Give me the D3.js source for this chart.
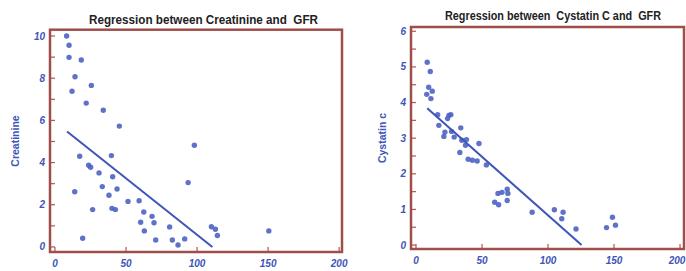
<!DOCTYPE html>
<html><head><meta charset="utf-8">
<script src="https://cdn.jsdelivr.net/npm/d3@7"></script>
<style>
html,body{margin:0;padding:0;background:#fff;}
svg{display:block;}
text{white-space:pre;}
</style></head>
<body>
<svg id="c" width="686" height="271"></svg>
<script>
// ---- Data ----
const crGFR   = [8.2,9.9,9.9,18.5,14.1,25.6,12,22,34,45.3,17.4,39.7,23.7,25.1,31,40.6,13.9,33.3,43.7,38,51.4,59.2,26.5,40.1,42.5,62.5,68.3,69.7,60.3,62.9,80.7,19.5,70.9,82.6,86.6,91.3,93.7,98.1,110.1,112.9,114.3,150.5];
const crValue = [10.0,9.56,8.99,8.86,8.07,7.66,7.38,6.82,6.48,5.73,4.30,4.33,3.87,3.78,3.51,3.33,2.62,2.86,2.75,2.45,2.16,2.19,1.77,1.83,1.77,1.66,1.45,1.15,1.17,0.76,0.95,0.41,0.33,0.33,0.09,0.38,3.05,4.82,0.96,0.84,0.54,0.76];
const crLineX = [8.5, 110.8];
const crLineY = [5.47, 0.0];

const cyGFR   = [8.5,10.8,9.6,12.3,8.1,11.3,16.4,24.9,26.4,23.9,17.3,21.9,21.1,26.9,28.9,33.9,34.7,38.2,47.7,37.5,33.2,39.5,42.7,46.3,53.3,62.1,65.1,69.1,69.6,59.6,62.6,69.1,88,104.8,111.4,110.4,121.2,148.8,144.3,151.1];
const cyValue = [5.13,4.87,4.43,4.32,4.23,4.11,3.66,3.64,3.66,3.55,3.36,3.17,3.05,3.19,3.03,3.29,2.94,2.96,2.85,2.80,2.60,2.41,2.38,2.36,2.25,1.45,1.48,1.57,1.45,1.20,1.13,1.25,0.92,0.99,0.92,0.74,0.45,0.78,0.49,0.56];
const cyLineX = [8.5, 125.4];
const cyLineY = [3.84, 0.0];

const xTicks = [0, 50, 100, 150, 200];
const crYTicks = [0, 2, 4, 6, 8, 10];
const crYMinor = [1, 3, 5, 7, 9];
const cyYTicks = [0, 1, 2, 3, 4, 5, 6];
const cyYMinor = [0.5, 1.5, 2.5, 3.5, 4.5, 5.5];

const charts = [
  {title:"Regression between Creatinine and  GFR", ylabel:"Creatinine",
   gx:crGFR, gy:crValue, lx:crLineX, ly:crLineY, yt:crYTicks, ym:crYMinor,
   xd:[-3.5,202], xr:[50,342], yd:[-0.24,10.3], yr:[252,29.7],
   titleX:89, titleW:229, titleY:24, ylabX:19, ylabY:141, ylabW:58, xLabY:267},
  {title:"Regression between  Cystatin C and  GFR", ylabel:"Cystatin c",
   gx:cyGFR, gy:cyValue, lx:cyLineX, ly:cyLineY, yt:cyYTicks, ym:cyYMinor,
   xd:[-3.8,203], xr:[411,684], yd:[-0.11,6.12], yr:[249,27],
   titleX:445, titleW:216, titleY:20, ylabX:386, ylabY:138, ylabW:58, xLabY:264}
];

const svg = d3.select("#c");
const blue = "#3d55b8";
const frameCol = "#9e4f4a";

charts.forEach(c => {
  const x = d3.scaleLinear().domain(c.xd).range(c.xr);
  const y = d3.scaleLinear().domain(c.yd).range(c.yr);
  const g = svg.append("g");

  // title
  g.append("text").attr("x", c.titleX).attr("y", c.titleY)
    .attr("font-family","Liberation Sans, Arial, sans-serif")
    .attr("font-weight","bold").attr("font-size", 12).attr("fill","#222")
    .attr("textLength", c.titleW).attr("lengthAdjust","spacingAndGlyphs")
    .text(c.title);

  // y label
  g.append("text")
    .attr("transform", `translate(${c.ylabX},${c.ylabY}) rotate(-90)`)
    .attr("text-anchor","middle")
    .attr("font-family","Liberation Sans, Arial, sans-serif")
    .attr("font-weight","bold").attr("font-size", 10.5).attr("fill", blue)
    .text(c.ylabel);

  // minor/major ticks inside frame (left)
  const x0 = c.xr[0];
  const yb = c.yr[0];
  c.yt.concat(c.ym).forEach(v => {
    g.append("line").attr("x1", x0).attr("x2", x0 + 5)
      .attr("y1", y(v)).attr("y2", y(v))
      .attr("stroke", "#c0504d").attr("stroke-width", 1.2);
  });
  xTicks.forEach(v => {
    g.append("line").attr("x1", x(v)).attr("x2", x(v))
      .attr("y1", yb).attr("y2", yb - 5)
      .attr("stroke", "#c0504d").attr("stroke-width", 1.2);
  });

  // y tick labels
  c.yt.forEach(v => {
    g.append("text").attr("x", x0 - 5).attr("y", y(v)).attr("dy","0.35em")
      .attr("text-anchor","end")
      .attr("font-family","Liberation Sans, Arial, sans-serif")
      .attr("font-weight","bold").attr("font-style","italic")
      .attr("font-size", 10).attr("fill", blue).text(v);
  });
  // x tick labels
  xTicks.forEach(v => {
    g.append("text").attr("x", Math.min(x(v), 677)).attr("y", c.xLabY)
      .attr("text-anchor","middle")
      .attr("font-family","Liberation Sans, Arial, sans-serif")
      .attr("font-weight","bold").attr("font-style","italic")
      .attr("font-size", 10).attr("fill", blue).text(v);
  });

  // frame
  g.append("rect").attr("x", c.xr[0]).attr("y", c.yr[1])
    .attr("width", c.xr[1]-c.xr[0]).attr("height", c.yr[0]-c.yr[1])
    .attr("fill","none").attr("stroke", frameCol).attr("stroke-width", 2.5);

  // points
  g.selectAll("circle").data(c.gx.map((v,i)=>[v, c.gy[i]])).enter()
    .append("circle").attr("cx", d=>x(d[0])).attr("cy", d=>y(d[1]))
    .attr("r", 2.7).attr("fill", "#4d63c4").attr("opacity", 0.9);

  // regression line
  g.append("path")
    .attr("d", d3.line().x(d=>x(d[0])).y(d=>y(d[1]))(c.lx.map((v,i)=>[v, c.ly[i]])))
    .attr("stroke", blue).attr("stroke-width", 2).attr("fill","none");
});
</script>
</body></html>
